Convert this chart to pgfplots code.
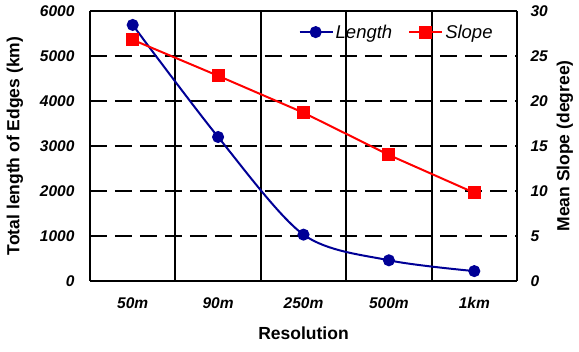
\documentclass[border=0pt]{standalone}
\usepackage{fontspec}
\setmainfont{Liberation Sans}
\usepackage{pgfplots}
\pgfplotsset{compat=1.18}
\definecolor{lblue}{RGB}{0,0,150}
\definecolor{lred}{RGB}{255,0,0}
\begin{document}
\begin{tikzpicture}
\useasboundingbox (-90pt,-71pt) rectangle (489pt,281pt);
\pgfplotsset{
  every axis/.append style={
    at={(0,0)}, anchor=south west,
    scale only axis, width=427pt, height=270pt,
    xmin=-0.5, xmax=4.5,
    /pgf/number format/assume math mode=true,
    tick label style={font=\fontsize{15.5}{18}\selectfont\bfseries\itshape},
    label style={font=\fontsize{17.5}{20}\selectfont\bfseries},
    major tick length=0pt, minor tick length=0pt,
    axis line style={line width=2.2pt},
  }
}
\begin{axis}[
  ymin=0, ymax=6000, ytick={0,1000,...,6000},
  scaled y ticks=false,
  yticklabel style={/pgf/number format/1000 sep={}},
  xtick={0,1,2,3,4},
  xticklabels={50m,90m,250m,500m,1km},
  minor xtick={0.5,1.5,2.5,3.5},
  xminorgrids, ymajorgrids,
  minor grid style={black, line width=1.9pt, solid},
  major grid style={black, line width=1.5pt, dash pattern=on 17pt off 8pt},
  axis y line*=left, axis x line*=box,
  yticklabel shift=12pt, xticklabel shift=13pt,
  ylabel={Total length of Edges (km)},
  xlabel={Resolution},
  ylabel style={at={(axis description cs:-0.176,0.5)}, anchor=center},
  xlabel style={at={(axis description cs:0.5,-0.193)}, anchor=center},
]
\addplot[color=lblue, line width=2pt, smooth, mark=*, mark size=5pt, mark options={solid, fill=lblue}]
  coordinates {(0,5690) (1,3200) (2,1030) (3,460) (4,220)};
\end{axis}
\begin{axis}[
  ymin=0, ymax=30, ytick={0,5,...,30},
  axis y line*=right, axis x line=none,
  yticklabel shift=10pt,
  ylabel={Mean Slope (degree)},
  ylabel style={at={(axis description cs:1.112,0.5)}, anchor=center, rotate=0},
  legend style={at={(axis description cs:0.955,0.965)}, anchor=north east, draw=none, fill=none,
    font=\fontsize{18.5}{21}\selectfont\itshape, legend columns=2,
    /tikz/every even column/.append style={column sep=14pt}},
  legend cell align=left,
  legend image code/.code={
    \draw[#1] (0pt,0pt) -- (33pt,0pt);
    \draw[#1, only marks] plot coordinates {(16pt,0pt)};
  },
]
\addlegendimage{color=lblue, line width=2pt, mark=*, mark size=5pt, mark options={fill=lblue}}
\addlegendentry{Length}
\addplot[color=lred, line width=2pt, mark=square*, mark size=5.5pt, mark options={fill=lred}]
  coordinates {(0,26.8) (1,22.8) (2,18.7) (3,14.0) (4,9.8)};
\addlegendentry{Slope}
\end{axis}
\end{tikzpicture}
\end{document}
